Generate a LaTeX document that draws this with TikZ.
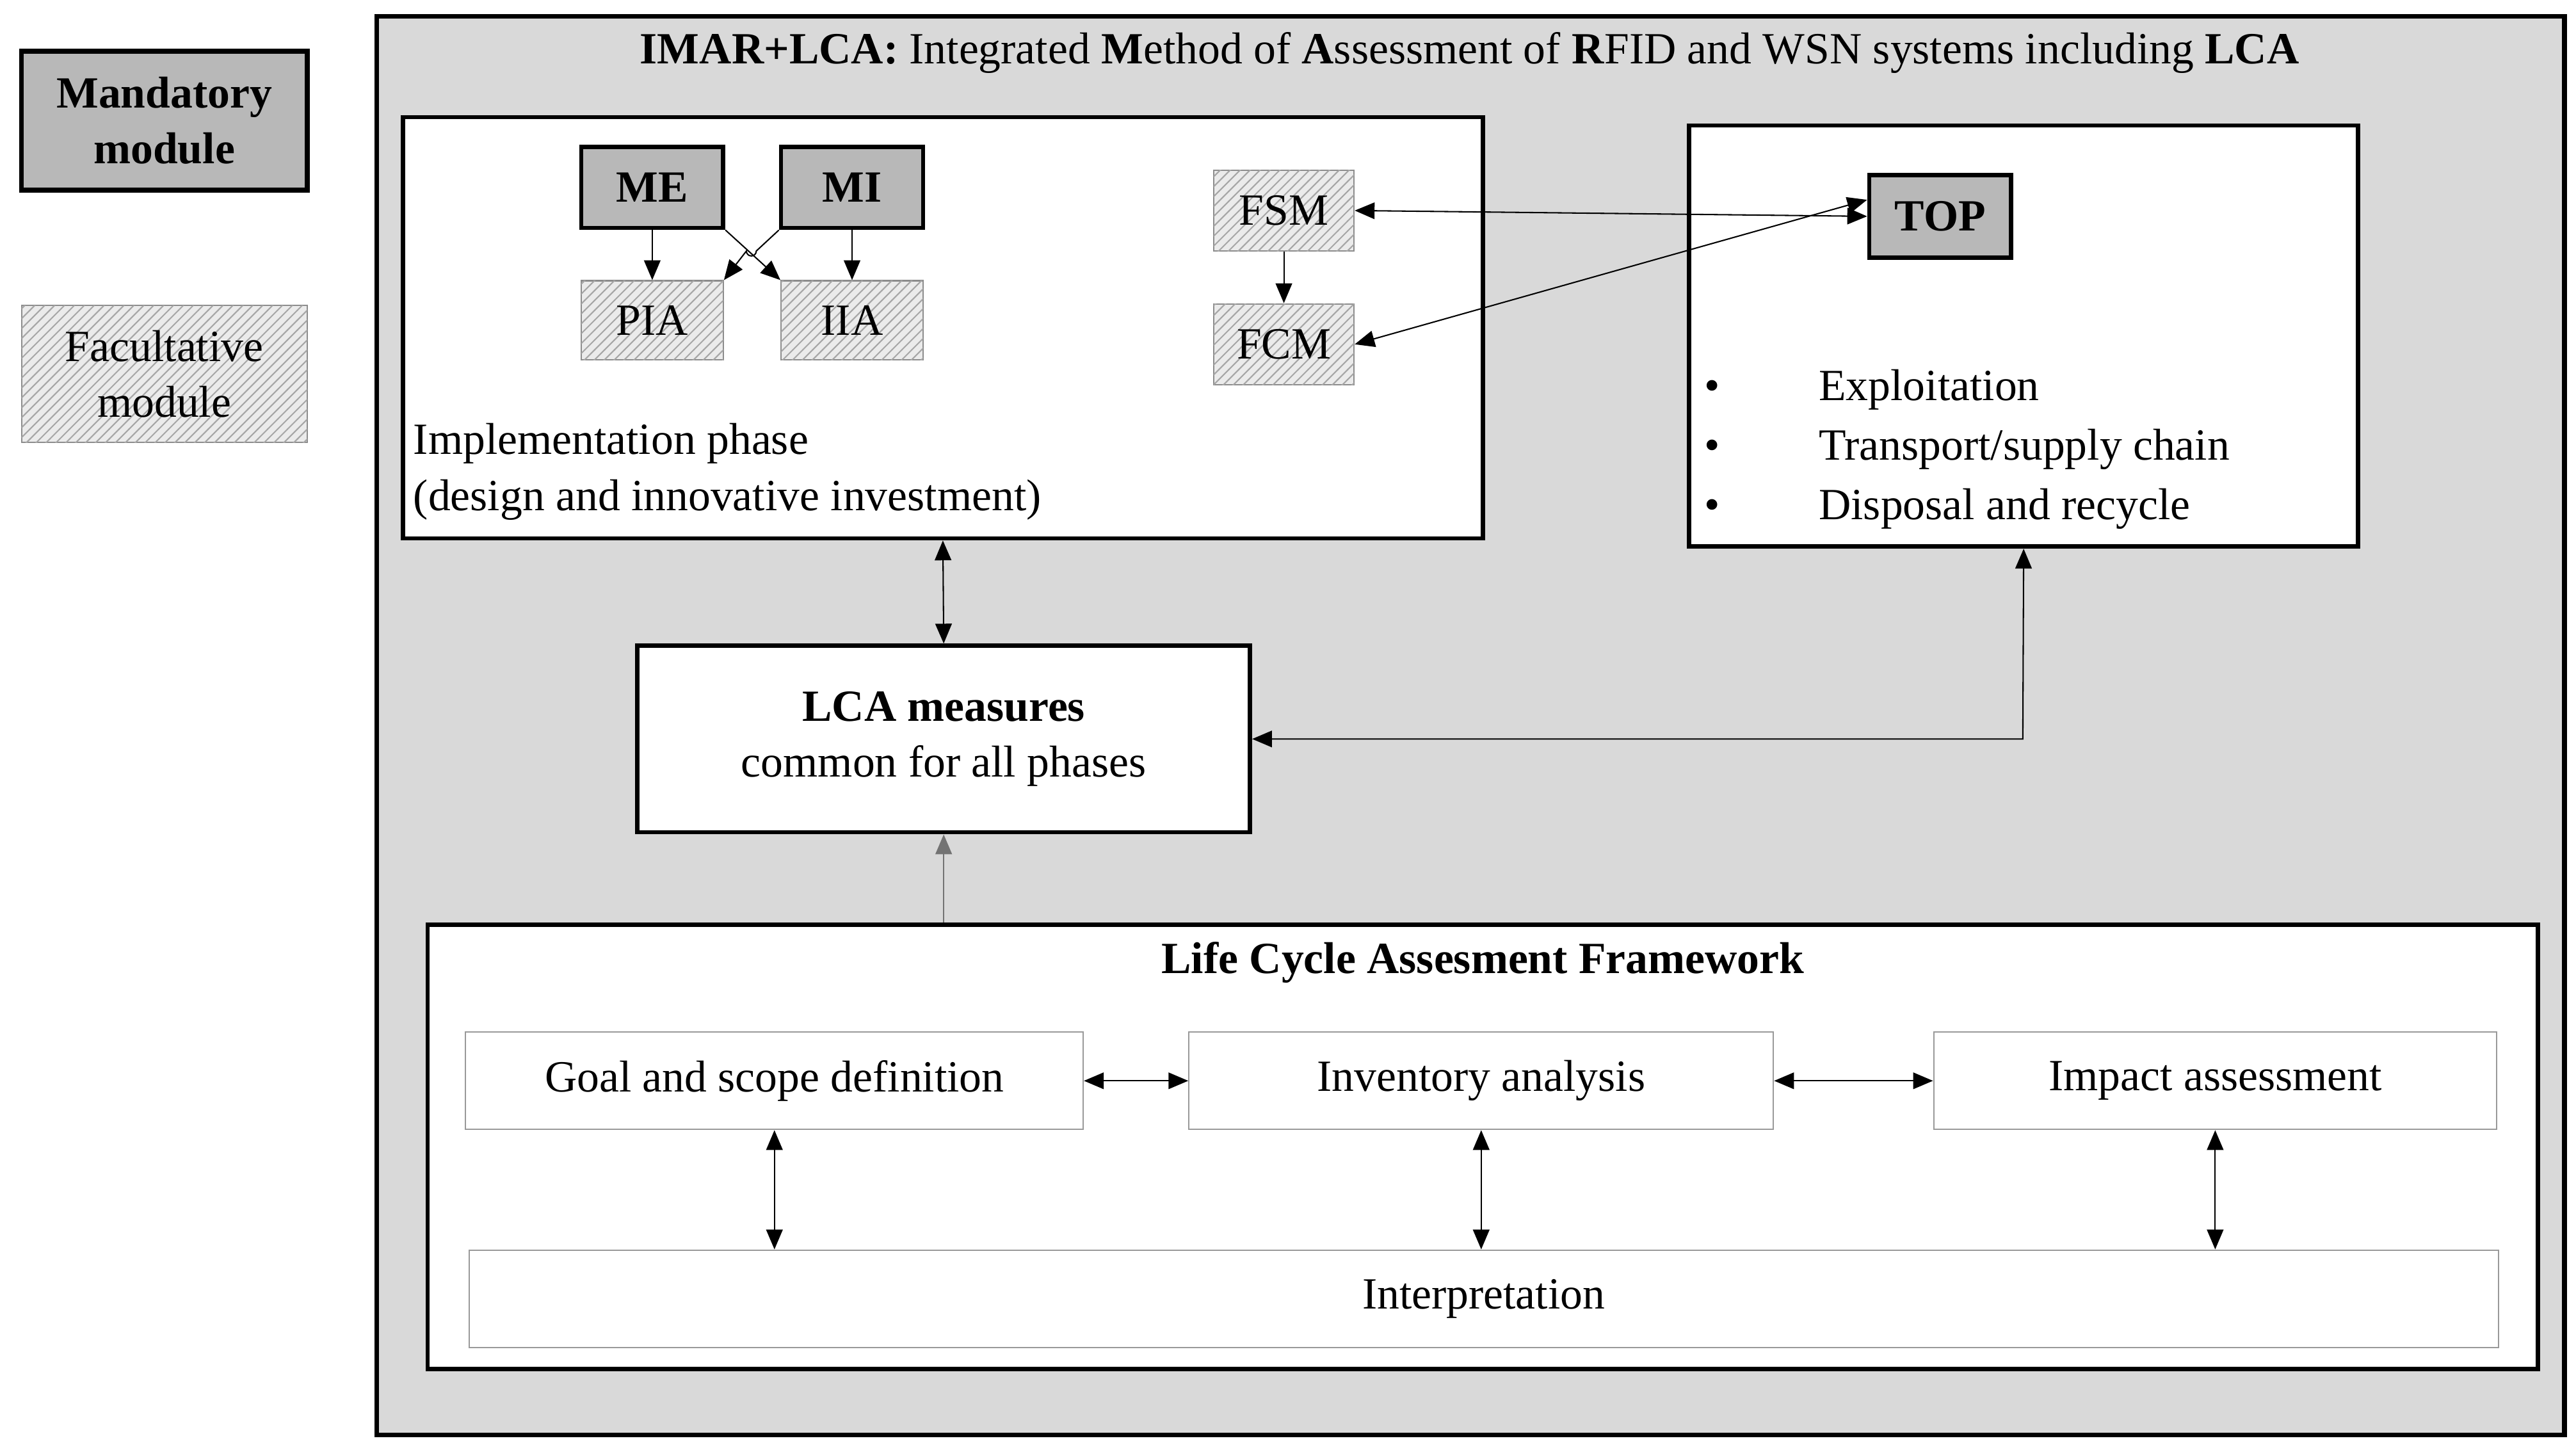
\documentclass[tikz,border=0pt]{standalone}
\usepackage{fontspec}
\setmainfont{Liberation Serif}
\usetikzlibrary{patterns,arrows.meta}
\begin{document}
\begin{tikzpicture}[x=0.5pt,y=-0.5pt,
 txt/.style={font=\fontsize{13.5}{17}\selectfont},
 mand/.style={draw=black,line width=1.5pt,fill=black!28,font=\fontsize{13.5}{17}\selectfont\bfseries,align=center},
 fac/.style={draw=black!45,line width=0.4pt,fill=black!8,postaction={pattern=north east lines,pattern color=black!35},font=\fontsize{13.5}{17}\selectfont,align=center},
 wbox/.style={draw=black,line width=1.3pt,fill=white},
 lbox/.style={draw=black!40,line width=0.4pt,fill=white,font=\fontsize{13.5}{17}\selectfont},
 arr/.style={-{Triangle[length=6pt,width=5pt]},line width=0.4pt},
 darr/.style={{Triangle[length=6pt,width=5pt]}-{Triangle[length=6pt,width=5pt]},line width=0.4pt}]
\useasboundingbox (0,0) rectangle (1560,878);
% legend
\node[mand,minimum width=86.5pt,minimum height=42pt] (leg1) at (99.5,73) {Mandatory\\module};
\node[fac,minimum width=86.5pt,minimum height=41.5pt] (leg2) at (99.5,226.5) {Facultative\\module};
% outer
\node[draw=black,line width=1.4pt,fill=black!15,minimum width=662.5pt,minimum height=429.5pt] (outer) at (890.5,439.5) {};
\node[txt] (title) at (890,32) {\textbf{IMAR+LCA:} Integrated \textbf{M}ethod of \textbf{A}ssessment of \textbf{R}FID and WSN systems including \textbf{LCA}};
% implementation box
\node[wbox,minimum width=327pt,minimum height=127.5pt] (impl) at (571,198.5) {};
\node[txt,anchor=north west,align=left,inner sep=0pt] (impltxt) at (250,256) {Implementation phase\\(design and innovative investment)};
\node[mand,minimum width=43pt,minimum height=24.5pt,line width=1.3pt] (ME) at (395,113.5) {ME};
\node[mand,minimum width=43pt,minimum height=24.5pt,line width=1.3pt] (MI) at (516,113.5) {MI};
\node[fac,minimum width=43pt,minimum height=24pt] (PIA) at (395,194) {PIA};
\node[fac,minimum width=43pt,minimum height=24pt] (IIA) at (516,194) {IIA};
\node[fac,minimum width=42.5pt,minimum height=24.5pt] (FSM) at (777.5,127.5) {FSM};
\node[fac,minimum width=42.5pt,minimum height=24.5pt] (FCM) at (777.5,208.5) {FCM};
\draw[arr] (ME) -- (PIA);
\draw[arr] (MI) -- (IIA);
\draw[arr] (ME.south east) -- (IIA.north west);
\draw[arr] (MI.south west) -- (458,152) arc (0:180:3) -- (PIA.north east);
\draw[arr] (FSM) -- (FCM);
% right box
\node[wbox,minimum width=202.5pt,minimum height=127.5pt] (right) at (1225.5,203.5) {};
\node[mand,minimum width=43pt,minimum height=25pt,line width=1.3pt] (TOP) at (1175,131) {TOP};
\node[txt,anchor=west,align=left] (bul) at (1025,272) {\textbullet\hspace{30pt}Exploitation\\[1pt]\textbullet\hspace{30pt}Transport/supply chain\\[1pt]\textbullet\hspace{30pt}Disposal and recycle};
\draw[darr] (FSM.east) -- (TOP.west);
\draw[darr] (FCM.east) -- ([yshift=5]TOP.west);
% LCA measures
\node[wbox,minimum width=185.5pt,minimum height=56.5pt,txt,align=center] (lca) at (571.5,447.5) {\textbf{LCA measures}\\common for all phases};
\draw[darr] (impl.south) -- (lca.north);
\draw[darr] (lca.east) -- (1225,447.5) -- (right.south);
% framework
\node[wbox,minimum width=639pt,minimum height=134.5pt] (fw) at (898,694.5) {};
\draw[arr,draw=black!55] (fw.north -| lca.south) -- (lca.south);
\node[txt,font=\fontsize{13.5}{17}\selectfont\bfseries] (fwt) at (898,583) {Life Cycle Assesment Framework};
\node[lbox,minimum width=187pt,minimum height=29.5pt] (goal) at (469,654.5) {Goal and scope definition};
\node[lbox,minimum width=177pt,minimum height=29.5pt] (inv) at (897,654.5) {Inventory analysis};
\node[lbox,minimum width=170.5pt,minimum height=29.5pt] (imp) at (1341.5,654.5) {Impact assessment};
\node[lbox,minimum width=614.5pt,minimum height=29.5pt] (interp) at (898.5,786.5) {Interpretation};
\draw[darr] (goal.east) -- (inv.west);
\draw[darr] (inv.east) -- (imp.west);
\draw[darr] (goal.south) -- (goal.south |- interp.north);
\draw[darr] (inv.south) -- (inv.south |- interp.north);
\draw[darr] (imp.south) -- (imp.south |- interp.north);
\end{tikzpicture}
\end{document}
